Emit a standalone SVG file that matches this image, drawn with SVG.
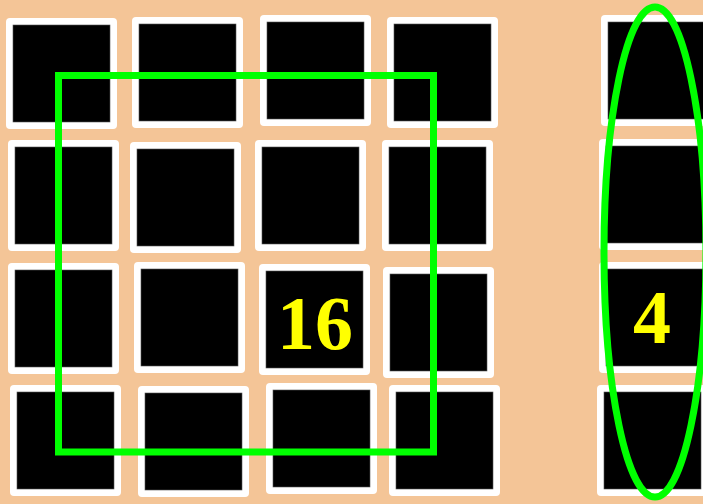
<svg xmlns="http://www.w3.org/2000/svg" width="703" height="504" viewBox="0 0 703 504">
<style>
.o{fill:#ffffff;}
.i{fill:#000000;stroke:#555555;stroke-width:0.6;}
.g{fill:none;stroke:#00ff00;stroke-width:7;}
.t{font-family:"Liberation Serif","Times New Roman",serif;font-weight:bold;font-size:76px;fill:#ffff00;text-anchor:middle;}
</style>
<rect x="0" y="0" width="703" height="504" fill="#f4c597"/>
<defs>
<g id="tile"><rect class="o" x="0" y="0" width="111" height="111" rx="4"/><rect class="i" x="7" y="7" width="97" height="97"/></g>
</defs>
<g id="grid16">
<g id="t00"><use href="#tile" x="6" y="18"/></g>
<g id="t01"><use href="#tile" x="132" y="17"/></g>
<g id="t02"><use href="#tile" x="260" y="15"/></g>
<g id="t03"><use href="#tile" x="387" y="17"/></g>
<g id="t10"><use href="#tile" x="8" y="140"/></g>
<g id="t11"><use href="#tile" x="130" y="142"/></g>
<g id="t12"><use href="#tile" x="255" y="140"/></g>
<g id="t13"><use href="#tile" x="382" y="140"/></g>
<g id="t20"><use href="#tile" x="8" y="263"/></g>
<g id="t21"><use href="#tile" x="134" y="262"/></g>
<g id="t22"><use href="#tile" x="259" y="264"/><text class="t" x="315" y="349">16</text></g>
<g id="t23"><use href="#tile" x="383" y="267"/></g>
<g id="t30"><use href="#tile" x="10" y="385"/></g>
<g id="t31"><use href="#tile" x="138" y="386"/></g>
<g id="t32"><use href="#tile" x="266" y="383"/></g>
<g id="t33"><use href="#tile" x="389" y="385"/></g>
</g>
<g id="column4">
<g id="c0"><use href="#tile" x="601" y="15"/></g>
<g id="c1"><use href="#tile" x="599" y="139"/></g>
<g id="c2"><use href="#tile" x="599" y="262"/><text class="t" x="652" y="343">4</text></g>
<g id="c3"><use href="#tile" x="597" y="385"/></g>
</g>
<g id="connectors">
<rect class="g" x="58.5" y="75.5" width="375" height="376.5"/>
<ellipse class="g" cx="655" cy="252" rx="51" ry="245"/>
</g>
</svg>
